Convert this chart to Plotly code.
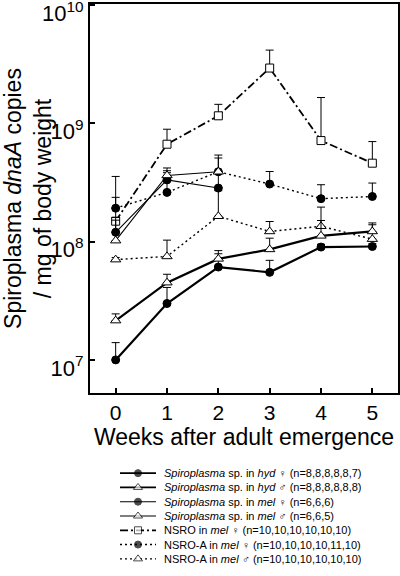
import plotly.graph_objects as go

weeks = [0, 1, 2, 3, 4, 5]

# series values (copies / mg) and upper error magnitudes
hyd_f = [1.0e7, 3.0e7, 6.1e7, 5.5e7, 9.0e7, 9.1e7]
hyd_f_err = [0.4e7, 1.1e7, 1.8e7, 1.45e7, 0.5e7, 0.5e7]
hyd_m = [2.15e7, 4.5e7, 7.15e7, 8.6e7, 1.12e8, 1.22e8]
hyd_m_err = [0.3e7, 0.8e7, 1.25e7, 2.1e7, 3.9e7, 2.2e7]
mel_f = [1.2e8, 3.33e8, 2.84e8]
mel_f_err = [0.4e8, 0.65e8, 1.0e8]
mel_m = [1.02e8, 3.63e8, 3.9e8]
mel_m_err = [0.5e8, 0.57e8, 1.5e8]
nsro_f = [1.49e8, 6.67e8, 1.16e9, 2.94e9, 7.16e8, 4.61e8]
nsro_f_err = [0.88e8, 2.26e8, 0.29e9, 1.23e9, 0.94e9, 2.41e8]
nsroa_f = [1.92e8, 2.61e8, 3.9e8, 3.07e8, 2.31e8, 2.41e8]
nsroa_f_err = [1.64e8, 1.22e8, 1.2e8, 0.85e8, 0.72e8, 0.72e8]
nsroa_m = [7.05e7, 7.5e7, 1.64e8, 1.22e8, 1.35e8, 1.05e8]
nsroa_m_err = [0.3e7, 2.8e7, 1.06e8, 2.6e7, 6.1e7, 3.4e7]

legend_labels = [
    "<i>Spiroplasma</i> sp. in <i>hyd</i> ♀ (n=8,8,8,8,8,7)",
    "<i>Spiroplasma</i> sp. in <i>hyd</i> ♂ (n=8,8,8,8,8,8)",
    "<i>Spiroplasma</i> sp. in <i>mel</i> ♀ (n=6,6,6)",
    "<i>Spiroplasma</i> sp. in <i>mel</i> ♂ (n=6,6,5)",
    "NSRO in <i>mel</i> ♀ (n=10,10,10,10,10,10)",
    "NSRO-A in <i>mel</i> ♀ (n=10,10,10,10,11,10)",
    "NSRO-A in <i>mel</i> ♂ (n=10,10,10,10,10,10)",
]

ytick_vals = [1e7, 1e8, 1e9, 1e10]
ytick_text = ["10<sup>7</sup>", "10<sup>8</sup>", "10<sup>9</sup>", "10<sup>10</sup>"]

FONT = "Arial, Liberation Sans, sans-serif"

circle = dict(symbol="circle", size=8, color="black", line=dict(color="black", width=1))
tri = dict(symbol="triangle-up", size=9, color="white", line=dict(color="black", width=1))
sq = dict(symbol="square", size=8, color="white", line=dict(color="black", width=1))

styles = [
    (hyd_f, hyd_f_err, dict(color="black", width=2.2, dash="solid"), circle),
    (hyd_m, hyd_m_err, dict(color="black", width=2.2, dash="solid"), tri),
    (mel_f, mel_f_err, dict(color="black", width=1.1, dash="solid"), circle),
    (mel_m, mel_m_err, dict(color="black", width=1.1, dash="solid"), tri),
    (nsro_f, nsro_f_err, dict(color="black", width=1.8, dash="8px,3px,2px,3px"), sq),
    (nsroa_f, nsroa_f_err, dict(color="black", width=1.4, dash="2px,3px"), circle),
    (nsroa_m, nsroa_m_err, dict(color="black", width=1.4, dash="2px,3px"), tri),
]

fig = go.Figure()
draw_order = [4, 5, 6, 2, 3, 0, 1]
for i in draw_order:
    vals, err, line, marker = styles[i]
    fig.add_trace(go.Scatter(
        x=weeks[:len(vals)], y=vals, mode="lines+markers",
        line=line, marker=marker, showlegend=False, cliponaxis=False,
        error_y=dict(type="data", symmetric=False, array=err,
                     arrayminus=[0] * len(err), color="black",
                     thickness=1, width=4),
        xaxis="x", yaxis="y",
    ))

# manual legend on a secondary axis
for i, (vals, err, line, marker) in enumerate(styles):
    m = dict(marker)
    m["size"] = [0, marker["size"] - 1, 0]
    fig.add_trace(go.Scatter(
        x=[0, 1, 2], y=[i, i, i], mode="lines+markers",
        line=dict(line, width=min(line["width"], 1.8)), marker=m,
        showlegend=False, xaxis="x2", yaxis="y2", hoverinfo="skip",
    ))
    fig.add_annotation(x=(162 - 90) / 308, xref="paper", y=i, yref="y2",
                       text=legend_labels[i], showarrow=False,
                       xanchor="left", yanchor="middle",
                       font=dict(size=11, color="black", family=FONT))

H = 576
fig.update_layout(
    width=400, height=H,
    margin=dict(l=90, r=2, t=4, b=0, autoexpand=False),
    paper_bgcolor="white", plot_bgcolor="white",
    font=dict(family=FONT, color="black", size=20),
    xaxis=dict(
        range=[-0.5, 5.5], tickvals=weeks, ticks="inside", ticklen=5,
        tickwidth=1.5, tickcolor="black", showgrid=False, zeroline=False,
        showline=True, linecolor="black", linewidth=2, mirror=True,
        tickfont=dict(size=21), domain=[0, 1], automargin=False,
        title=dict(text="Weeks after adult emergence", font=dict(size=23), standoff=6),
    ),
    yaxis=dict(
        type="log", range=[6.72, 10.01], tickvals=ytick_vals, ticktext=ytick_text,
        ticks="inside", ticklen=5, tickwidth=1.5, tickcolor="black",
        showgrid=False, zeroline=False, showline=True, linecolor="black",
        linewidth=2, mirror=True, tickfont=dict(size=22), automargin=False,
        ticklabeloverflow="allow", ticklabelshift=8,
        domain=[(H - 393) / 572, 1],
        title=dict(text="Spiroplasma <i>dnaA</i> copies<br>/ mg of body weight",
                   font=dict(size=23), standoff=2),
    ),
    xaxis2=dict(domain=[(120 - 90) / 308, (156 - 90) / 308], range=[0, 2],
                visible=False, anchor="y2"),
    yaxis2=dict(domain=[(H - 566) / 572, (H - 466) / 572], range=[6.5, -0.5],
                visible=False, anchor="x2"),
)

fig.write_html(
    "out.html",
    config={"displayModeBar": False},
    post_script="document.body.style.margin='0';document.body.style.overflow='hidden';",
)
